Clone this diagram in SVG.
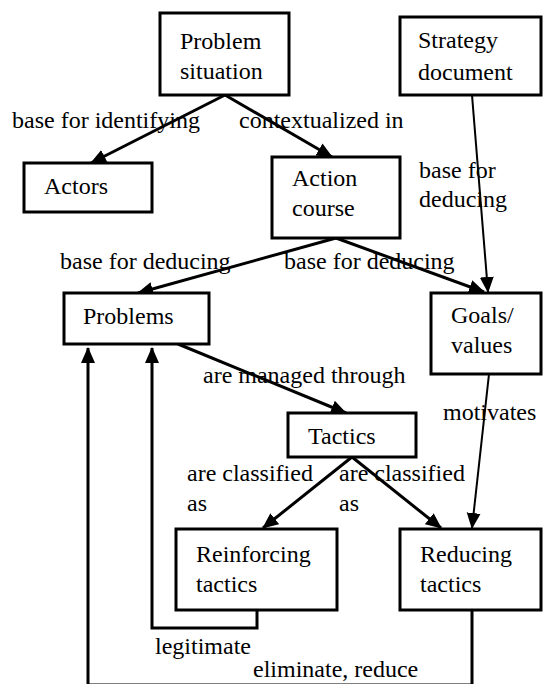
<svg xmlns="http://www.w3.org/2000/svg" width="543" height="684" viewBox="0 0 543 684">
<defs>
<style>
.box{fill:#fff;stroke:#000;stroke-width:3}
.c{fill:none;stroke:#000;stroke-width:3}
.t{fill:none;stroke:#000;stroke-width:2}
</style>
<marker id="ah" markerUnits="userSpaceOnUse" markerWidth="16" markerHeight="16" refX="15" refY="7" orient="auto" viewBox="0 0 16 14">
<path d="M0,0 L16,7 L0,14 z" fill="#000"/>
</marker>
</defs>
<rect width="543" height="684" fill="#fff"/>
<g id="connectors">
<line class="c" x1="225" y1="95" x2="91" y2="163" marker-end="url(#ah)"/>
<line class="c" x1="225" y1="95" x2="332" y2="157" marker-end="url(#ah)"/>
<line class="t" x1="472" y1="95" x2="488" y2="292" marker-end="url(#ah)"/>
<line class="c" x1="336" y1="238" x2="138" y2="293" marker-end="url(#ah)"/>
<line class="c" x1="336" y1="238" x2="484" y2="292" marker-end="url(#ah)"/>
<line class="c" x1="178" y1="344" x2="346" y2="413" marker-end="url(#ah)"/>
<line class="t" x1="489" y1="374" x2="472" y2="528" marker-end="url(#ah)"/>
<line class="c" x1="352" y1="457" x2="263" y2="528" marker-end="url(#ah)"/>
<line class="c" x1="352" y1="457" x2="441" y2="528" marker-end="url(#ah)"/>
<polyline class="c" points="257,610 257,628 152,628 152,348" marker-end="url(#ah)"/>
<polyline class="c" points="472,610 472,685 88,685 88,348" marker-end="url(#ah)"/>
</g>
<g font-family="Liberation Serif, DejaVu Serif, serif" font-size="24" fill="#000">
<g id="problem-situation"><rect class="box" x="160" y="13" width="129" height="82"/><text x="180" y="49">Problem</text><text x="180" y="79">situation</text></g>
<g id="strategy-document"><rect class="box" x="400" y="17" width="141" height="78"/><text x="418" y="48">Strategy</text><text x="418" y="80">document</text></g>
<g id="actors"><rect class="box" x="24" y="163" width="128" height="49"/><text x="44" y="194">Actors</text></g>
<g id="action-course"><rect class="box" x="272" y="157" width="128" height="81"/><text x="292" y="186">Action</text><text x="292" y="216">course</text></g>
<g id="problems"><rect class="box" x="64" y="293" width="145" height="51"/><text x="83" y="324">Problems</text></g>
<g id="goals-values"><rect class="box" x="431" y="293" width="110" height="81"/><text x="451" y="323">Goals/</text><text x="451" y="353">values</text></g>
<g id="tactics"><rect class="box" x="288" y="413" width="128" height="44"/><text x="308" y="444">Tactics</text></g>
<g id="reinforcing-tactics"><rect class="box" x="176" y="529" width="161" height="81"/><text x="196" y="562">Reinforcing</text><text x="196" y="592">tactics</text></g>
<g id="reducing-tactics"><rect class="box" x="400" y="529" width="141" height="81"/><text x="420" y="562">Reducing</text><text x="420" y="592">tactics</text></g>
<g id="labels">
<text x="12" y="128">base for identifying</text>
<text x="239" y="128">contextualized in</text>
<text x="419" y="178">base for</text>
<text x="419" y="207">deducing</text>
<text x="60" y="269">base for deducing</text>
<text x="284" y="269">base for deducing</text>
<text x="203" y="383">are managed through</text>
<text x="443" y="420">motivates</text>
<text x="187" y="481">are classified</text>
<text x="187" y="511">as</text>
<text x="339" y="481">are classified</text>
<text x="339" y="511">as</text>
<text x="155" y="654">legitimate</text>
<text x="253" y="677">eliminate, reduce</text>
</g>
</g>
</svg>
